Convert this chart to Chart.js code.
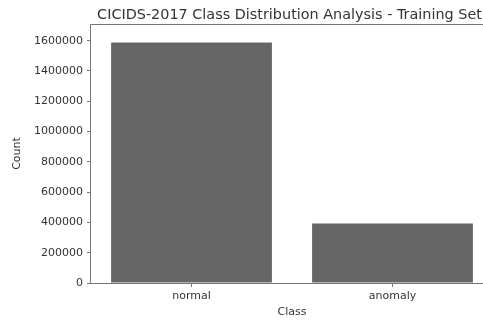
<!DOCTYPE html>
<html>
<head>
<meta charset="utf-8">
<script src="https://cdn.jsdelivr.net/npm/chart.js@4"></script>
<style>
  html, body { margin: 0; padding: 0; overflow: hidden; background: #fff; }
  #wrap { width: 483px; height: 320px; overflow: hidden; position: relative; }
  #myChart { position: absolute; left: 0; top: 0; }
</style>
</head>
<body>
<div id="wrap"><canvas id="myChart" width="493" height="320"></canvas></div>
<script>
const classes = ['normal', 'anomaly'];
const counts = [1587000, 392000];
const yTicks = [0, 200000, 400000, 600000, 800000, 1000000, 1200000, 1400000, 1600000];

const axisColor = '#777777';
const textColor = '#333333';

// matplotlib style spines (left, bottom, top) + title centred over the axes
const spines = {
  id: 'spines',
  afterLayout(chart) {
    if (chart.titleBlock) {
      chart.titleBlock.left = chart.chartArea.left;
      chart.titleBlock.right = chart.chartArea.right - 5;
    }
  },
  afterDraw(chart) {
    const { ctx, chartArea } = chart;
    const l = Math.round(chartArea.left) - 0.5;
    const t = Math.round(chartArea.top) + 0.5;
    const b = Math.round(chartArea.bottom) + 0.5;
    ctx.save();
    ctx.strokeStyle = axisColor;
    ctx.lineWidth = 1;
    ctx.beginPath();
    ctx.moveTo(chartArea.right, t);
    ctx.lineTo(l, t);
    ctx.lineTo(l, b);
    ctx.lineTo(chartArea.right, b);
    ctx.stroke();
    ctx.restore();
  }
};

const ctx = document.getElementById('myChart').getContext('2d');

new Chart(ctx, {
  type: 'bar',
  data: {
    labels: classes,
    datasets: [{
      label: 'Count',
      data: counts,
      backgroundColor: '#666666',
      borderWidth: 0,
      barPercentage: 0.8,
      categoryPercentage: 1.0
    }]
  },
  options: {
    responsive: false,
    maintainAspectRatio: false,
    animation: false,
    devicePixelRatio: 1,
    layout: { padding: 0 },
    plugins: {
      legend: { display: false },
      tooltip: { enabled: false },
      title: {
        display: true,
        text: 'CICIDS-2017 Class Distribution Analysis - Training Set',
        color: textColor,
        font: { family: 'DejaVu Sans', size: 14.4, weight: 'normal' },
        padding: { top: 6.3, bottom: 0.4 }
      }
    },
    scales: {
      x: {
        grid: { display: true, drawOnChartArea: false, drawTicks: true, tickLength: 4, offset: false, color: axisColor },
        border: { display: false },
        ticks: { color: textColor, padding: 3, font: { family: 'DejaVu Sans', size: 11 } },
        title: {
          display: true,
          text: 'Class',
          color: textColor,
          font: { family: 'DejaVu Sans', size: 11 },
          padding: { top: 0, bottom: 1 }
        },
        afterFit(scale) { scale.height = 37; }
      },
      y: {
        min: 0,
        max: 1710000,
        grid: { display: true, drawOnChartArea: false, drawTicks: true, tickLength: 4, color: axisColor },
        border: { display: false },
        afterBuildTicks(scale) {
          scale.ticks = yTicks.map(v => ({ value: v }));
        },
        ticks: {
          color: textColor,
          padding: 4,
          font: { family: 'DejaVu Sans', size: 11 },
          callback: v => String(v)
        },
        title: {
          display: true,
          text: 'Count',
          color: textColor,
          font: { family: 'DejaVu Sans', size: 11 },
          padding: { top: 11, bottom: 0 }
        },
        afterFit(scale) { scale.width = 91; }
      }
    }
  },
  plugins: [spines]
});
</script>
</body>
</html>
